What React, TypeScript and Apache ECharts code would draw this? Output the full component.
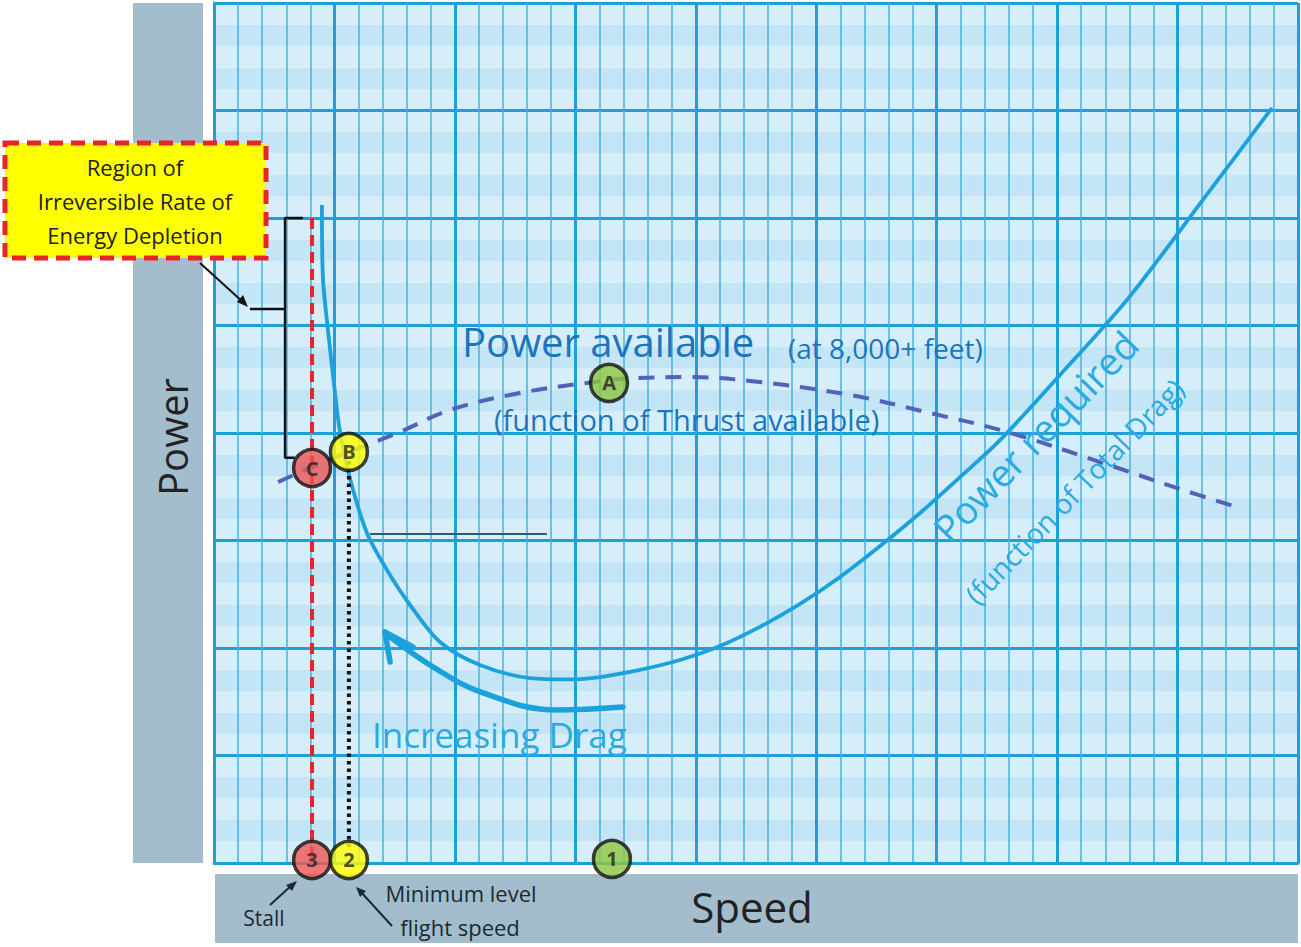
import React, { useEffect, useRef } from "react";
import * as echarts from "echarts";

// Speed (x, 0..45 minor divisions) vs Power (y, 0..40 minor divisions)
const powerRequired: [number, number][] = [
  [4.48, 30.6], [4.52, 27.26], [4.73, 24.79], [5.02, 21.91], [5.23, 20.05],
  [5.65, 17.86], [6.35, 15.35], [7.18, 13.63], [8.14, 12.0], [9.38, 10.28],
  [11.04, 9.21], [13.12, 8.6], [14.78, 8.54], [16.02, 8.65], [17.68, 8.98],
  [19.34, 9.44], [21.0, 10.09], [22.66, 10.98], [24.33, 12.05], [25.99, 13.3],
  [27.65, 14.74], [29.31, 16.28], [30.97, 17.95], [32.63, 19.67], [35.12, 22.7],
  [37.9, 26.19], [41.05, 30.84], [43.92, 35.12],
];

const powerAvailable: [number, number][] = [
  [2.66, 17.72], [4.07, 18.42], [5.6, 19.12], [7.72, 20.05], [9.8, 21.07],
  [12.7, 21.86], [15.48, 22.33], [17.56, 22.56], [19.76, 22.6], [22.25, 22.42],
  [26.4, 21.77], [29.72, 20.93], [32.92, 20.05], [36.78, 18.65], [40.22, 17.35],
  [42.59, 16.51],
];

const dragArrow: [number, number][] = [
  [16.98, 7.26], [14.24, 7.12], [11.17, 7.91], [9.09, 9.12], [7.31, 10.51], [7.1, 10.74],
];
const dragArrowHead: [number, number][] = [[7.31, 9.35], [7.1, 10.74], [8.26, 10.05]];

const stallLine: [number, number][] = [[4.07, 30.0], [4.07, 0.14]];
const minSpeedLine: [number, number][] = [[5.6, 18.7], [5.6, 0.6]];
const darkLine: [number, number][] = [[6.48, 15.3], [13.82, 15.3]];
const bracket: [number, number][] = [[3.69, 30.0], [2.95, 30.0], [2.95, 18.85], [3.35, 18.85]];
const bracketPointer: [number, number][] = [[1.49, 25.77], [2.95, 25.77]];

const markerNames = ["C", "B", "A", "3", "2", "1"];
const markerPoints: [number, number][] = [
  [4.07, 18.37], [5.6, 19.12], [16.4, 22.33], [4.07, 0.14], [5.6, 0.14], [16.52, 0.19],
];
const markerColors = ["#ee5555", "#ffff00", "#8cc63f", "#ee5555", "#ffff00", "#8cc63f"];

const boxLines = ["Region of", "Irreversible Rate of", "Energy Depletion"];

const FONT = "'Open Sans', Lato, sans-serif";
const MAJOR = "#1e9fd9";
const MINOR = "#44b0e2";

export default function App() {
  const ref = useRef<HTMLDivElement>(null);
  useEffect(() => {
    const chart = echarts.init(ref.current!, null, { renderer: "svg" });
    const lineBase = { type: "line", showSymbol: false, symbol: "none", silent: true, xAxisIndex: 0, yAxisIndex: 0 };
    const option: any = {
      animation: false,
      grid: { left: 214, top: 3, width: 1084, height: 860, containLabel: false },
      xAxis: [
        {
          type: "value", min: 0, max: 45, interval: 5,
          axisLabel: { show: false }, axisTick: { show: false },
          axisLine: { show: true, lineStyle: { color: MAJOR, width: 3 } },
          splitLine: { show: true, lineStyle: { color: MAJOR, width: 3 } },
          minorTick: { show: false, splitNumber: 5 },
          minorSplitLine: { show: true, lineStyle: { color: MINOR, width: 1.5 } },
        },
      ],
      yAxis: [
        {
          type: "value", min: 0, max: 40, interval: 5,
          axisLabel: { show: false }, axisTick: { show: false },
          axisLine: { show: true, lineStyle: { color: MAJOR, width: 3 } },
          splitLine: { show: true, lineStyle: { color: MAJOR, width: 3 } },
        },
        {
          type: "value", min: 0, max: 40, interval: 1, z: -1, position: "left",
          axisLabel: { show: false }, axisTick: { show: false }, axisLine: { show: false },
          splitLine: { show: false },
          splitArea: { show: true, areaStyle: { color: ["#d6eefa", "#c3e5f6", "#d6eefa", "#c3e5f6", "#d6eefa"] } },
        },
      ],
      series: [
        { ...lineBase, data: darkLine, lineStyle: { color: "#2b5a75", width: 2 }, z: 3 },
        { ...lineBase, data: powerRequired, smooth: 0.3, lineStyle: { color: "#1ba1dc", width: 3.8 }, z: 4 },
        { ...lineBase, data: powerAvailable, smooth: 0.4, lineStyle: { color: "#5262b8", width: 4, type: [16, 11] }, z: 4 },
        { ...lineBase, data: stallLine, lineStyle: { color: "#e8232a", width: 4, type: [11, 6] }, z: 5 },
        { ...lineBase, data: minSpeedLine, lineStyle: { color: "#111", width: 4, type: [3.5, 4] }, z: 5 },
        { ...lineBase, data: bracket, lineStyle: { color: "#111", width: 2.5 }, z: 5 },
        { ...lineBase, data: bracketPointer, lineStyle: { color: "#111", width: 2.5 }, z: 5 },
        { ...lineBase, data: dragArrow, smooth: 0.4, lineStyle: { color: "#1ba1dc", width: 5.5, cap: "round" }, z: 4 },
        { ...lineBase, data: dragArrowHead, lineStyle: { color: "#1ba1dc", width: 5.5, cap: "round", join: "round" }, z: 4 },
        {
          type: "scatter", silent: true, clip: false, z: 10,
          symbol: "circle", symbolSize: 37,
          data: markerPoints.map((p, i) => ({
            value: p, name: markerNames[i],
            itemStyle: { color: markerColors[i], borderColor: "#111", borderWidth: 3.5 },
          })),
          label: {
            show: true, position: "inside", formatter: "{b}",
            fontSize: 20, fontWeight: "bold", color: "#222", fontFamily: FONT,
          },
        },
      ],
      graphic: [
        { type: "rect", z: -20, shape: { x: 133, y: 3, width: 70, height: 860 }, style: { fill: "#a3bdcc" } },
        { type: "rect", z: -20, shape: { x: 215, y: 874, width: 1083, height: 69 }, style: { fill: "#a3bdcc" } },
        {
          type: "text", x: 172, y: 437, rotation: Math.PI / 2,
          style: { text: "Power", fontSize: 40, fill: "#222", align: "center", verticalAlign: "middle", fontFamily: FONT },
        },
        {
          type: "text", x: 752, y: 906,
          style: { text: "Speed", fontSize: 42, fill: "#222", align: "center", verticalAlign: "middle", fontFamily: FONT },
        },
        {
          type: "rect", z: 50, shape: { x: 5, y: 143, width: 261, height: 115 },
          style: { fill: "#ffff00", stroke: "#e8232a", lineWidth: 5, lineDash: [14, 8] },
        },
        ...boxLines.map((t, i) => ({
          type: "text", z: 51, x: 135, y: 167 + i * 34,
          style: { text: t, fontSize: 22, fill: "#222", align: "center", verticalAlign: "middle", fontFamily: FONT },
        })),
        // leader arrow from box to bracket
        { type: "line", z: 50, shape: { x1: 200, y1: 263, x2: 244, y2: 303 }, style: { stroke: "#111", lineWidth: 2 } },
        { type: "polygon", z: 50, shape: { points: [[248, 307], [237, 302], [243, 295]] }, style: { fill: "#111" } },
        // stall arrow
        { type: "line", z: 50, shape: { x1: 270, y1: 905, x2: 292, y2: 885 }, style: { stroke: "#1a2a33", lineWidth: 2 } },
        { type: "polygon", z: 50, shape: { points: [[297, 881], [292, 891], [286, 885]] }, style: { fill: "#1a2a33" } },
        // minimum level flight speed arrow
        { type: "line", z: 50, shape: { x1: 392, y1: 926, x2: 360, y2: 891 }, style: { stroke: "#1a2a33", lineWidth: 2 } },
        { type: "polygon", z: 50, shape: { points: [[356, 887], [366, 891], [360, 897]] }, style: { fill: "#1a2a33" } },
        {
          type: "text", x: 264, y: 918,
          style: { text: "Stall", fontSize: 21, fill: "#1a2a33", align: "center", verticalAlign: "middle", fontFamily: FONT },
        },
        {
          type: "text", x: 461, y: 893,
          style: { text: "Minimum level", fontSize: 22, fill: "#1a2a33", align: "center", verticalAlign: "middle", fontFamily: FONT },
        },
        {
          type: "text", x: 460, y: 927,
          style: { text: "flight speed", fontSize: 22, fill: "#1a2a33", align: "center", verticalAlign: "middle", fontFamily: FONT },
        },
        // curve labels
        {
          type: "text", z: 20, x: 462, y: 341,
          style: { text: "Power available", fontSize: 40, fill: "#1c75bc", align: "left", verticalAlign: "middle", fontFamily: FONT },
        },
        {
          type: "text", z: 20, x: 788, y: 348,
          style: { text: "(at 8,000+ feet)", fontSize: 28, fill: "#1c75bc", align: "left", verticalAlign: "middle", fontFamily: FONT },
        },
        {
          type: "text", z: 20, x: 494, y: 419,
          style: { text: "(function of Thrust available)", fontSize: 29, fill: "#1c75bc", align: "left", verticalAlign: "middle", fontFamily: FONT },
        },
        {
          type: "text", z: 20, x: 1035, y: 436, rotation: (46 * Math.PI) / 180,
          style: { text: "Power required", fontSize: 38, fill: "#29abe2", align: "center", verticalAlign: "middle", fontFamily: FONT },
        },
        {
          type: "text", z: 20, x: 1074, y: 491, rotation: (46 * Math.PI) / 180,
          style: { text: "(function of Total Drag)", fontSize: 28, fill: "#29abe2", align: "center", verticalAlign: "middle", fontFamily: FONT },
        },
        {
          type: "text", z: 20, x: 372, y: 734,
          style: { text: "Increasing Drag", fontSize: 35, fill: "#29abe2", align: "left", verticalAlign: "middle", fontFamily: FONT },
        },
      ],
    };
    chart.setOption(option);
    return () => chart.dispose();
  }, []);
  return <div ref={ref} style={{ position: "absolute", left: 0, top: 0, width: 1301, height: 947 }} />;
}
